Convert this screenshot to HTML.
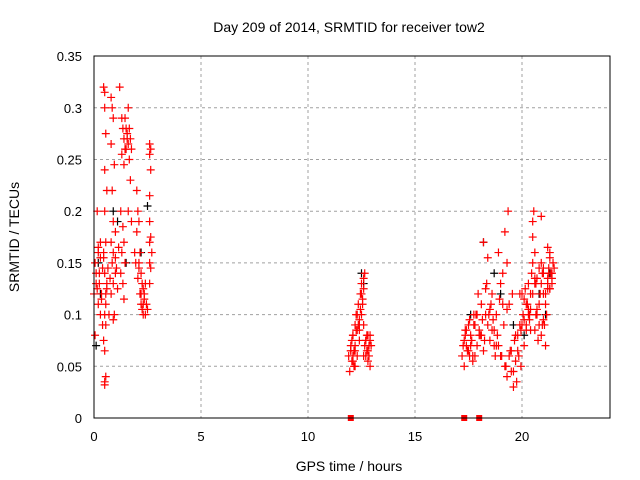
<!DOCTYPE html>
<html><head><meta charset="utf-8"><style>
body{margin:0;background:#fff;}
svg{display:block;font-family:"Liberation Sans",sans-serif;}
</style></head><body>
<svg id="chart" width="640" height="480" viewBox="0 0 640 480">
<text x="349" y="32" font-size="14" text-anchor="middle">Day 209 of 2014, SRMTID for receiver tow2</text>
<text x="349" y="471" font-size="14" text-anchor="middle">GPS time / hours</text>
<text x="19" y="237" font-size="14" text-anchor="middle" transform="rotate(-90 19 237)">SRMTID / TECUs</text>
<g id="grid"></g><g id="ticks"></g><g id="pts"></g>
<rect x="94" y="56" width="516" height="362" fill="none" stroke="#000" stroke-width="1"/>
</svg>
<script>
const xTicks=[0,5,10,15,20];
const yTicks=[0,0.05,0.1,0.15,0.2,0.25,0.3,0.35];
const yTickLabels=["0","0.05","0.1","0.15","0.2","0.25","0.3","0.35"];
const tBlack=[0.1,0.2,0.3,0.9,1.1,1.5,2.2,2.5,12.5,12.6,17.6,18.2,18.7,19.0,19.6,20.1,20.8,21.1,21.3];
const vBlack=[0.07,0.15,0.12,0.2,0.19,0.15,0.16,0.205,0.14,0.13,0.1,0.17,0.14,0.12,0.09,0.08,0.12,0.1,0.14];
const tRed=[
0.05,0.1,0.15,0.2,0.2,0.25,0.3,0.3,0.35,0.4,
0.45,0.5,0.5,0.55,0.5,0.6,0.5,0.55,0.45,0.5,0.6,0.5,0.55,0.45,0.5,0.55,0.5,0.5,0.55,
0.8,0.85,0.9,0.8,0.95,0.85,0.9,1.0,0.8,0.9,0.85,1.0,0.9,0.8,0.95,0.9,
1.2,1.3,1.35,1.4,1.45,1.3,1.4,1.25,1.35,1.4,1.3,1.45,1.25,1.35,1.4,
1.6,1.65,1.7,1.6,1.75,1.65,1.7,1.6,1.75,
2.0,2.05,2.1,2.0,2.15,2.1,2.2,2.25,2.3,2.2,2.35,2.3,2.25,2.4,
2.6,2.65,2.6,2.65,2.6,2.6,2.65,2.6,2.7,2.6,2.65,2.6,
11.9,11.95,12.0,12.05,12.1,12.1,12.15,12.2,12.2,12.25,12.3,12.3,12.35,12.4,12.4,12.45,12.5,12.5,12.55,12.6,12.6,12.65,12.7,12.7,12.75,12.8,12.8,12.85,12.9,12.9,12.0,12.2,12.4,12.6,12.8,
17.2,17.3,17.35,17.4,17.5,17.55,17.6,17.7,17.75,17.8,17.9,17.95,18.0,18.1,18.15,18.2,18.3,18.35,18.4,18.5,18.55,18.6,18.7,18.75,18.8,18.9,18.95,19.0,19.1,19.15,19.2,19.3,19.35,19.4,19.5,19.55,19.6,19.7,19.75,19.8,19.9,19.95,
17.3,17.5,17.7,17.9,18.1,18.3,18.5,18.7,18.9,19.1,19.3,19.5,19.7,19.9,18.2,18.4,19.2,19.3,19.4,
20.0,20.05,20.1,20.15,20.2,20.25,20.3,20.35,20.4,20.45,20.5,20.55,20.6,20.65,20.7,20.75,20.8,20.85,20.9,20.95,21.0,21.05,21.1,21.15,21.2,21.25,21.3,21.35,21.4,21.45,
20.1,20.3,20.5,20.7,20.9,21.1,21.3,20.5,20.9,21.2,20.6,21.0,21.3];
const vRed=[
0.08,0.13,0.2,0.16,0.11,0.14,0.1,0.17,0.12,0.09,
0.32,0.315,0.3,0.275,0.24,0.22,0.2,0.17,0.155,0.14,0.13,0.1,0.09,0.075,0.065,0.04,0.035,0.032,0.12,
0.31,0.3,0.29,0.265,0.245,0.22,0.19,0.18,0.17,0.16,0.15,0.14,0.13,0.12,0.1,0.095,
0.32,0.29,0.28,0.27,0.26,0.255,0.245,0.2,0.185,0.17,0.16,0.15,0.14,0.13,0.115,
0.3,0.28,0.27,0.265,0.26,0.25,0.23,0.2,0.19,
0.22,0.2,0.19,0.18,0.16,0.15,0.14,0.13,0.125,0.12,0.115,0.11,0.105,0.1,
0.265,0.26,0.255,0.24,0.215,0.19,0.175,0.17,0.16,0.15,0.145,0.13,
0.06,0.045,0.07,0.055,0.08,0.06,0.065,0.09,0.07,0.1,0.085,0.06,0.11,0.095,0.075,0.12,0.13,0.1,0.115,0.125,0.09,0.14,0.075,0.06,0.08,0.065,0.055,0.07,0.075,0.05,0.065,0.05,0.085,0.06,0.08,
0.06,0.05,0.085,0.07,0.065,0.095,0.08,0.055,0.1,0.09,0.07,0.12,0.085,0.11,0.095,0.065,0.1,0.13,0.09,0.075,0.11,0.12,0.085,0.06,0.1,0.07,0.115,0.13,0.11,0.09,0.05,0.04,0.2,0.06,0.045,0.12,0.03,0.08,0.035,0.065,0.09,0.05,
0.075,0.09,0.06,0.1,0.08,0.125,0.105,0.07,0.16,0.14,0.105,0.065,0.055,0.12,0.17,0.155,0.18,0.15,0.11,
0.09,0.1,0.115,0.125,0.085,0.11,0.13,0.095,0.12,0.14,0.19,0.2,0.16,0.13,0.1,0.075,0.09,0.12,0.15,0.14,0.12,0.09,0.07,0.1,0.13,0.145,0.16,0.14,0.13,0.15,
0.07,0.105,0.175,0.135,0.195,0.11,0.125,0.15,0.08,0.165,0.085,0.145,0.155];
const tRed2=[
0.0,0.05,0.1,0.15,0.2,0.25,0.3,0.35,0.4,0.45,0.55,0.6,0.65,0.7,0.75,
1.0,1.05,1.1,1.15,1.5,1.55,1.45,1.5,1.55,1.9,1.95,2.05,2.1,2.15,2.2,2.3,2.35,2.4,2.45,2.5,
12.0,12.05,12.1,12.15,12.25,12.35,12.45,12.55,12.65,12.75,12.85,12.95,12.1,12.3,12.5,12.7,12.9,12.2,12.4,12.6,
17.25,17.35,17.45,17.55,17.65,17.75,17.85,18.05,18.25,18.45,18.65,18.85,19.05,19.25,19.45,19.65,19.85,
17.4,17.6,17.8,18.0,18.6,18.8,19.0,19.6,19.8,19.95,
20.0,20.1,20.2,20.3,20.4,20.5,20.6,20.7,20.8,20.9,21.0,21.1,21.2,21.3,21.4,21.5,
20.2,20.4,20.6,20.8,21.0,21.2,21.4,20.35,20.65,20.95,21.25];
const vRed2=[
0.12,0.15,0.14,0.125,0.165,0.13,0.155,0.115,0.145,0.16,0.11,0.125,0.145,0.1,0.135,
0.155,0.145,0.125,0.165,0.28,0.275,0.29,0.26,0.27,0.16,0.15,0.135,0.145,0.12,0.11,0.1,0.12,0.13,0.11,0.105,
0.065,0.075,0.055,0.05,0.085,0.09,0.105,0.11,0.07,0.065,0.06,0.07,0.08,0.1,0.12,0.075,0.08,0.065,0.09,0.135,
0.07,0.08,0.065,0.06,0.075,0.09,0.1,0.08,0.075,0.1,0.095,0.08,0.06,0.05,0.065,0.075,0.06,
0.085,0.07,0.06,0.08,0.085,0.07,0.06,0.045,0.08,0.085,
0.12,0.095,0.11,0.1,0.085,0.12,0.135,0.105,0.145,0.13,0.095,0.12,0.135,0.125,0.14,0.145,
0.09,0.105,0.13,0.11,0.14,0.125,0.135,0.1,0.1,0.09,0.14];
const tZero=[12.0,17.3,18.0];
const vZero=[0,0,0];
const X=t=>94+t*21.4, Y=v=>418-v*1034;
const NS="http://www.w3.org/2000/svg";
const grid=document.getElementById('grid'),ticks=document.getElementById('ticks'),pts=document.getElementById('pts');
function mk(tag,a,p){const e=document.createElementNS(NS,tag);for(const k in a)e.setAttribute(k,a[k]);p.appendChild(e);return e;}
xTicks.forEach(t=>{
 if(t>0){const g=mk('line',{x1:X(t),x2:X(t),y1:56,y2:418,stroke:'#a0a0a0','stroke-dasharray':'3,3'},grid);
 
 }
 const l=mk('text',{x:X(t),y:441,'font-size':13,'text-anchor':'middle'},ticks);l.textContent=t;
 
 
});
yTicks.forEach((v,i)=>{
 if(i>0&&i<yTicks.length-1){const g=mk('line',{x1:94,x2:610,y1:Y(v),y2:Y(v),stroke:'#a0a0a0','stroke-dasharray':'3,3'},grid);
 
 }
 const l=mk('text',{x:82,y:Y(v)+5,'font-size':13,'text-anchor':'end'},ticks);l.textContent=yTickLabels[i];
 
 
});
function plus(t,v,c,name){const x=X(t),y=Y(v);
 const p=mk('path',{d:`M${x-4} ${y}H${x+4}M${x} ${y-4}V${y+4}`,stroke:c,'stroke-width':1.2,fill:'none'},pts);
 
 }
tBlack.forEach((t,i)=>plus(t,vBlack[i],'#000','black-point'));
tRed.forEach((t,i)=>plus(t,vRed[i],'#f00','red-point'));
tRed2.forEach((t,i)=>plus(t,vRed2[i],'#f00','red-point'));
tZero.forEach((t,i)=>{
 const r=mk('rect',{x:X(t)-3,y:Y(vZero[i])-3,width:6,height:6,fill:'#f00'},pts);
 
 
});
</script>
</body></html>
